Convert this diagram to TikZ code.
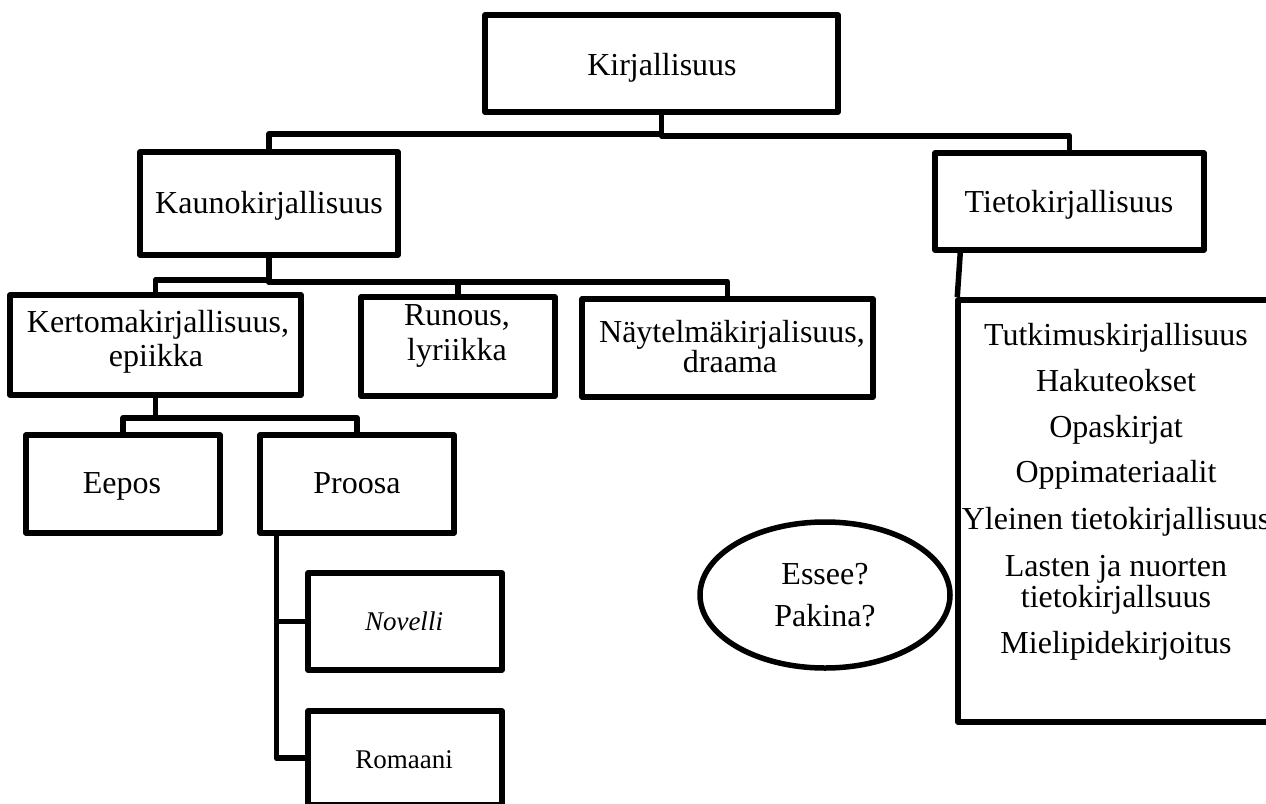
\documentclass[tikz,border=0pt]{standalone}
\usepackage{fontspec}
\setmainfont{Liberation Serif}
\usetikzlibrary{fit,shapes.geometric}
\tikzset{
  box/.style={draw, line width=5.5pt, line join=round, rectangle, inner sep=0pt},
  conn/.style={line width=5.5pt, line join=round},
  lbl/.style={anchor=base, inner sep=0pt, font=\fontsize{32}{36}\selectfont},
  small/.style={anchor=base, inner sep=0pt, font=\fontsize{27}{30}\selectfont},
  oval/.style={draw, ellipse, line width=5.5pt, inner sep=0pt, align=center,
    font=\fontsize{32}{42}\selectfont}
}
\begin{document}
\begin{tikzpicture}[x=1pt, y=-1pt]
\useasboundingbox (0,0) rectangle (1266,803);
\clip (0,0) rectangle (1266,803);
\fill[white] (0,0) rectangle (1266,803);

% boxes
\node[box, fit={(485,15) (838,112)}] (kir) {};
\node[box, fit={(140,152) (398,255)}] (kauno) {};
\node[box, fit={(935,153) (1204,250)}] (tieto) {};
\node[box, fit={(10,295) (301,395)}] (kerto) {};
\node[box, fit={(361,297) (555,396)}] (runous) {};
\node[box, fit={(582,299) (873,397)}] (nay) {};
\node[box, fit={(26,435) (220,533)}] (eepos) {};
\node[box, fit={(260,435) (454,533)}] (proosa) {};
\node[box, fit={(308,573) (502,670)}] (novelli) {};
\node[box, fit={(308,711) (502,805)}] (romaani) {};
\node[box, fit={(958,300) (1300,722)}] (lista) {};
\node[oval, minimum width=250pt, minimum height=146pt] (essee) at (825,595) {Essee?\\Pakina?};

% texts
\node[lbl] (tkir) at (662,75) {Kirjallisuus};
\node[lbl] (tkauno) at (269,213) {Kaunokirjallisuus};
\node[lbl] (ttieto) at (1069,212) {Tietokirjallisuus};
\node[lbl] (tkerto1) at (158,332) {Kertomakirjallisuus,};
\node[lbl] (tkerto2) at (156,366) {epiikka};
\node[lbl] (trun1) at (457,325) {Runous,};
\node[lbl] (trun2) at (457,360) {lyriikka};
\node[lbl] (tnay1) at (732,342) {Näytelmäkirjalisuus,};
\node[lbl] (tnay2) at (730,372) {draama};
\node[lbl] (teepos) at (122,493) {Eepos};
\node[lbl] (tproosa) at (357,493) {Proosa};
\node[small] (tnov) at (404,630) {\itshape Novelli};
\node[small] (trom) at (404,768) {Romaani};

\node[lbl] (l1) at (1116,345) {Tutkimuskirjallisuus};
\node[lbl] (l2) at (1116,391) {Hakuteokset};
\node[lbl] (l3) at (1116,437) {Opaskirjat};
\node[lbl] (l4) at (1116,482) {Oppimateriaalit};
\node[lbl] (l5) at (1116,529) {Yleinen tietokirjallisuus};
\node[lbl] (l6) at (1116,576) {Lasten ja nuorten};
\node[lbl] (l7) at (1116,607) {tietokirjallsuus};
\node[lbl] (l8) at (1116,653) {Mielipidekirjoitus};

% connectors
\draw[conn] (kir.south) -- ++(0,19) -| (kauno.north);
\draw[conn] (kir.south) -- ++(0,21) -| (tieto.north);
\draw[conn] (kauno.south) -- ++(0,22) -| (kerto.north);
\draw[conn] (kauno.south) -- ++(0,24) -| (runous.north);
\draw[conn] (kauno.south) -- ++(0,24) -| (nay.north);
\draw[conn] (kerto.south) -- ++(0,20) -| (eepos.north);
\draw[conn] (kerto.south) -- ++(0,20) -| (proosa.north);
\draw[conn] ([xshift=19pt]proosa.south west) |- (novelli.west);
\draw[conn] ([xshift=19pt]proosa.south west) |- (romaani.west);
\draw[conn] ([xshift=28pt]tieto.south west) -- ([xshift=2pt]lista.north west);
\end{tikzpicture}
\end{document}
